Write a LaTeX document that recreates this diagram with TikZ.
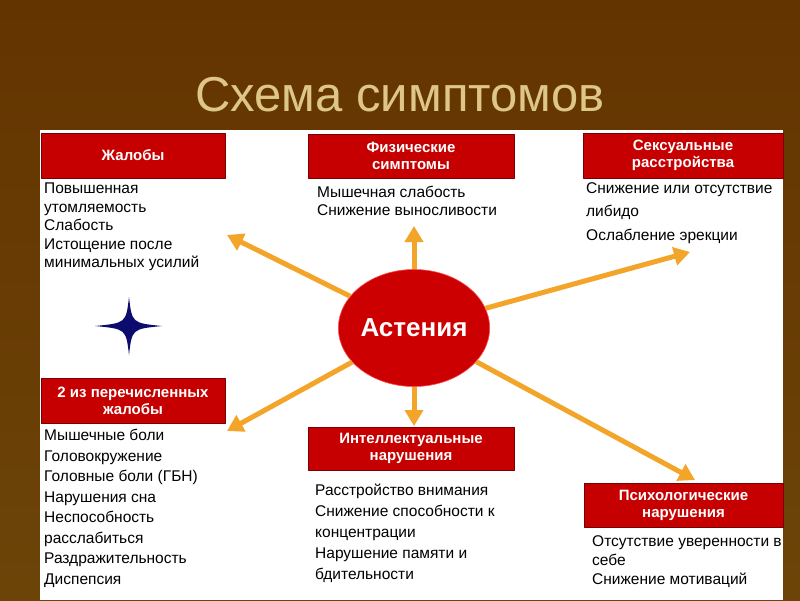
\documentclass[tikz,border=0pt]{standalone}
\usepackage{fontspec}
\setmainfont{Liberation Sans}
\usetikzlibrary{shapes.geometric,arrows.meta}

\definecolor{bgtop}{RGB}{100,52,0}
\definecolor{bgmid}{RGB}{145,96,12}
\definecolor{bgbot}{RGB}{108,68,8}
\definecolor{titlebeige}{RGB}{222,198,135}
\definecolor{boxred}{RGB}{198,0,0}
\definecolor{boxedge}{RGB}{120,0,0}
\definecolor{astred}{RGB}{204,0,0}
\definecolor{spokeorange}{RGB}{242,165,40}
\definecolor{starblue}{RGB}{12,12,110}

\tikzset{
  headbox/.style={draw=boxedge, line width=0.8pt, fill=boxred, text=white,
    font=\bfseries\fontsize{15}{17}\selectfont, align=center, inner sep=0pt},
  itemtext/.style={anchor=north west, inner sep=0pt, align=left,
    font=\fontsize{15.5}{#1}\selectfont},
  spoke/.style={draw=spokeorange, line width=5pt,
    -{Triangle[length=16pt,width=18pt]}},
}

\begin{document}
\begin{tikzpicture}[x=1pt,y=-1pt,line join=round]

% slide background and white sheet
\shade[top color=bgtop, middle color=bgmid, bottom color=bgbot] (0,0) rectangle (800,600);
\useasboundingbox (0,0) rectangle (800,600);
\fill[white] (40,130) rectangle (783,600);

% title
\node[text=titlebeige, font=\fontsize{49}{55}\selectfont] (title) at (400,95) {Схема симптомов};

% free ends of the spokes
\coordinate (tipUL) at (227,235);
\coordinate (tipU)  at (414,226);
\coordinate (tipUR) at (690,252);
\coordinate (tipLL) at (227,431);
\coordinate (tipD)  at (414,426);
\coordinate (tipLR) at (695,480);

% centre
\node[ellipse, fill=astred, draw=red!70!white, line width=0.6pt,
  minimum width=137, minimum height=117, inner sep=0pt, text=white,
  font=\bfseries\fontsize{26}{30}\selectfont] (ast) at (414,328) {Астения};

% spokes
\foreach \t in {tipUL,tipU,tipUR,tipLL,tipD,tipLR}
  \draw[spoke] (ast) -- (\t);

% headers
\node[headbox, minimum width=184, minimum height=45] (hComplaints) at (133,155.5) {Жалобы};
\node[headbox, minimum width=206, minimum height=44] (hPhysical) at (411,156) {Физические\\симптомы};
\node[headbox, minimum width=200, minimum height=45] (hSexual) at (683,155.5) {Сексуальные\\расстройства};
\node[headbox, minimum width=184, minimum height=45] (hTwoOf) at (133,400.5) {2 из перечисленных\\жалобы};
\node[headbox, minimum width=206, minimum height=43] (hIntel) at (411,448.5) {Интеллектуальные\\нарушения};
\node[headbox, minimum width=199, minimum height=44] (hPsych) at (683.5,505) {Психологические\\нарушения};

% item lists
\node[itemtext=18.5] (tComplaints) at (44,183) {Повышенная\\утомляемость\\Слабость\\Истощение после\\минимальных усилий};
\node[itemtext=17.5] (tPhysical) at (317,186) {Мышечная слабость\\Снижение выносливости};
\node[itemtext=23.5] (tSexual) at (586,182) {Снижение или отсутствие\\либидо\\Ослабление эрекции};
\node[itemtext=20.5] (tTwoOf) at (44,429) {Мышечные боли\\Головокружение\\Головные боли (ГБН)\\Нарушения сна\\Неспособность\\расслабиться\\Раздражительность\\Диспепсия};
\node[itemtext=21] (tIntel) at (315,484) {Расстройство внимания\\Снижение способности к\\концентрации\\Нарушение памяти и\\бдительности};
\node[itemtext=19] (tPsych) at (592,535) {Отсутствие уверенности в\\себе\\Снижение мотиваций};

% four-pointed star
\fill[starblue] (129,297) .. controls (132,323) .. (162,326)
  .. controls (132,329) .. (129,355)
  .. controls (126,329) .. (95,326)
  .. controls (126,323) .. (129,297) -- cycle;

\end{tikzpicture}
\end{document}
